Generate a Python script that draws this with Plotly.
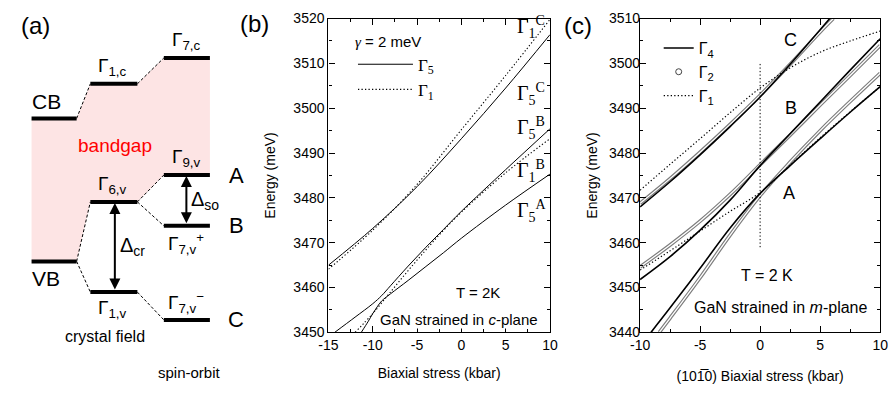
import plotly.graph_objects as go

# ======================= DATA =======================
# ---- Panel (a): schematic band-edge levels (arbitrary energy units) ----
level_names = ["CB", "Γ<sub>1,c</sub>", "Γ<sub>7,c</sub>",
               "VB", "Γ<sub>6,v</sub>", "Γ<sub>1,v</sub>",
               "Γ<sub>9,v</sub>", "Γ<sub>7,v</sub><sup>+</sup>", "Γ<sub>7,v</sub><sup>−</sup>"]
level_column = [0, 1, 2, 0, 1, 1, 2, 2, 2]
level_energy = [283, 319, 346, 134, 196, 102, 224, 171, 73]
level_links = [(0, 1), (1, 2), (3, 4), (3, 5), (4, 6), (4, 7), (5, 8)]
gap_top_levels = [0, 1, 2]
gap_bottom_levels = [6, 4, 3]
exciton_names = ["A", "B", "C"]
exciton_levels = [6, 7, 8]
splittings = [("Δ<sub>cr</sub>", 4, 5), ("Δ<sub>so</sub>", 6, 7)]
column_titles = ["crystal field", "spin-orbit"]

# ---- Panel (b): GaN strained in c-plane ----
b_tick_vals = [-15, -10, -5, 0, 5, 10]
b_tick_text = ["-15", "-10", "-5", "0", "5", "10"]
b_G5C_s = [-15, -10, -5, 0, 5, 10]
b_G5C_E = [3465.0, 3473.2, 3482.5, 3493.2, 3504.5, 3516.4]
b_G1C_s = [-15, -10, -5, 0, 5, 10]
b_G1C_E = [3464.1, 3472.8, 3483.0, 3495.2, 3507.3, 3519.8]
b_G5B_s = [-14.3, -12, -10, -9, -8, -6, -4, -2, 0, 5, 10]
b_G5B_E = [3450.0, 3453.4, 3456.4, 3458.2, 3460.4, 3464.8, 3469.0, 3473.0, 3477.0, 3486.3, 3495.4]
b_G1B_s = [-12, -10, -8, -6, -4, -2, 0, 5, 10]
b_G1B_E = [3450.0, 3454.2, 3459.0, 3463.8, 3468.4, 3472.8, 3476.8, 3485.6, 3493.2]
b_G5A_s = [-11.3, -10.5, -10, -9.5, -9, -8, -6, -4, -2, 0, 5, 10]
b_G5A_E = [3450.0, 3452.5, 3454.2, 3455.7, 3457.0, 3458.6, 3461.6, 3464.7, 3467.8, 3471.0, 3478.4, 3485.3]
b_labels = ["Γ<sub>1</sub><sup>C</sup>", "Γ<sub>5</sub><sup>C</sup>", "Γ<sub>5</sub><sup>B</sup>",
            "Γ<sub>1</sub><sup>B</sup>", "Γ<sub>5</sub><sup>A</sup>"]
b_label_s = [6.0, 6.0, 6.0, 6.0, 6.0]
b_label_E = [3518.1, 3503.1, 3495.6, 3486.0, 3477.0]

# ---- Panel (c): GaN strained in m-plane ----
c_tick_vals = [-10, -5, 0, 5, 10]
c_tick_text = ["-10", "-5", "0", "5", "10"]
c_C_G4_s = [-10, -7.5, -5, -2.5, 0, 2.5, 5, 5.8]
c_C_G4_E = [3468.0, 3473.6, 3479.6, 3485.9, 3492.5, 3499.8, 3507.5, 3510.0]
c_C_G2_s = [-10, -7.5, -5, -2.5, 0, 2.5, 5, 6.1]
c_C_G2_E = [3468.8, 3474.3, 3480.2, 3486.4, 3492.9, 3499.8, 3507.0, 3510.0]
c_C_G1_s = [-10, -7.5, -5, -2.5, 0, 2.5, 5, 7.5, 10]
c_C_G1_E = [3471.7, 3477.5, 3483.2, 3489.0, 3494.5, 3499.0, 3502.5, 3505.0, 3507.2]
c_B_G4_s = [-10, -7.5, -5, -2.5, 0, 2.5, 5, 7.5, 10]
c_B_G4_E = [3451.8, 3456.9, 3462.8, 3469.5, 3477.2, 3484.3, 3491.4, 3498.5, 3505.5]
c_B_G2_s = [-10, -7.5, -5, -2.5, 0, 2.5, 5, 7.5, 10]
c_B_G2_E = [3454.6, 3459.5, 3464.8, 3470.8, 3477.4, 3484.0, 3490.7, 3497.3, 3504.0]
c_B_G1_s = [-10, -7.5, -5, -2.5, 0, 2.5, 5, 7.5, 10]
c_B_G1_E = [3453.9, 3458.2, 3462.6, 3467.0, 3471.2, 3477.3, 3483.4, 3489.2, 3494.8]
c_A_G4_s = [-9.1, -7.5, -5, -2.5, 0, 2.5, 5, 7.5, 10]
c_A_G4_E = [3440.0, 3445.5, 3454.3, 3463.3, 3471.0, 3477.2, 3483.2, 3489.1, 3494.8]
c_A_G2_s = [-8.4, -7.5, -5, -2.5, 0, 2.5, 5, 7.5, 10]
c_A_G2_E = [3440.0, 3443.2, 3452.2, 3461.7, 3470.5, 3478.0, 3485.0, 3491.5, 3497.8]
c_guide_s = [0, 0]
c_guide_E = [3459, 3500]
c_labels = ["C", "B", "A"]
c_label_s = [2.57, 2.57, 2.41]
c_label_E = [3505.3, 3490.1, 3471.2]

# ======================= STYLE =======================
W, H = 896, 398


def PX(x):
    return x / W


def PY(y):
    return 1 - y / H


SANS = "Liberation Sans, Arial, sans-serif"
SERIF = "Liberation Serif, Times New Roman, serif"
col_left = [22, 82, 157]
col_right = [68, 130, 204]
col_label_x = [37, 105, 180]
label_above = [True, True, True, False, True, False, True, False, True]
PINK = "#fde4e4"
GRAY = "#7d7d7d"
DOT = "1.3px,2.2px"

fig = go.Figure()

# ---------------- Panel (a) ----------------
gx, gy = [], []
for i in gap_top_levels:
    c = level_column[i]
    gx += [col_left[c], col_right[c]]
    gy += [level_energy[i]] * 2
for i in gap_bottom_levels:
    c = level_column[i]
    gx += [col_right[c], col_left[c]]
    gy += [level_energy[i]] * 2
fig.add_trace(go.Scatter(x=gx, y=gy, fill="toself", fillcolor=PINK, mode="lines",
                         line=dict(width=0, color=PINK), hoverinfo="skip", showlegend=False,
                         xaxis="x", yaxis="y"))
for i, j in level_links:
    ci, cj = level_column[i], level_column[j]
    fig.add_trace(go.Scatter(x=[col_right[ci], col_left[cj]], y=[level_energy[i], level_energy[j]],
                             mode="lines", line=dict(color="black", width=1, dash="3px,2px"),
                             hoverinfo="skip", showlegend=False, xaxis="x", yaxis="y"))
for i, e in enumerate(level_energy):
    c = level_column[i]
    fig.add_trace(go.Scatter(x=[col_left[c], col_right[c]], y=[e, e], mode="lines",
                             line=dict(color="black", width=4), hoverinfo="skip",
                             showlegend=False, xaxis="x", yaxis="y"))

annotations = []
for i, name in enumerate(level_names):
    c = level_column[i]
    big = i in (0, 3)
    off = 18 if label_above[i] else -18
    annotations.append(dict(x=col_label_x[c], y=level_energy[i] + off, xref="x", yref="y",
                            text=name, showarrow=False, xanchor="center", yanchor="middle",
                            font=dict(family=SANS, size=21 if big else 19, color="black")))
for name, li in zip(exciton_names, exciton_levels):
    annotations.append(dict(x=231, y=level_energy[li], xref="x", yref="y", text=name,
                            showarrow=False, xanchor="center", yanchor="middle",
                            font=dict(family=SANS, size=22, color="black")))
split_x = {4: 107, 6: 180}
split_lab = {4: 110, 6: 183}
for name, hi, lo in splittings:
    xx = split_x[hi]
    annotations.append(dict(x=xx, y=level_energy[hi], ax=xx, ay=level_energy[lo], xref="x", yref="y",
                            axref="x", ayref="y", text="", showarrow=True, arrowhead=2,
                            arrowside="end+start", arrowwidth=2, arrowsize=1.1, arrowcolor="black",
                            standoff=1, startstandoff=1))
    annotations.append(dict(x=split_lab[hi], y=(level_energy[hi] + level_energy[lo]) / 2, xref="x", yref="y",
                            text=name, showarrow=False, xanchor="left", yanchor="middle",
                            font=dict(family=SANS, size=20, color="black")))
annotations.append(dict(x=107, y=255, xref="x", yref="y", text="bandgap", showarrow=False,
                        font=dict(family=SANS, size=19, color="#ff0000")))
annotations.append(dict(x=97, y=56, xref="x", yref="y", text=column_titles[0], showarrow=False,
                        font=dict(family=SANS, size=16, color="black")))
annotations.append(dict(x=183, y=18, xref="x", yref="y", text=column_titles[1], showarrow=False,
                        font=dict(family=SANS, size=15, color="black")))


# ---------------- Panel (b) ----------------
def line_tr(s, E, ax, dash="solid", width=1.0, color="black", name=None, legend=None):
    return go.Scatter(x=s, y=E, mode="lines", line=dict(color=color, width=width, dash=dash, shape="spline"),
                      name=name, showlegend=name is not None, legend=legend, hoverinfo="skip",
                      xaxis="x" + ax, yaxis="y" + ax)


fig.add_trace(line_tr(b_G5C_s, b_G5C_E, "2", name="Γ<sub>5</sub>", legend="legend"))
fig.add_trace(line_tr(b_G1C_s, b_G1C_E, "2", dash=DOT, width=1.1, name="Γ<sub>1</sub>", legend="legend"))
fig.add_trace(line_tr(b_G5B_s, b_G5B_E, "2"))
fig.add_trace(line_tr(b_G1B_s, b_G1B_E, "2", dash=DOT, width=1.1))
fig.add_trace(line_tr(b_G5A_s, b_G5A_E, "2"))

for t, s, e in zip(b_labels, b_label_s, b_label_E):
    annotations.append(dict(x=s, y=e, xref="x2", yref="y2", text=t, showarrow=False,
                            xanchor="left", yanchor="middle",
                            font=dict(family=SERIF, size=20, color="black")))
annotations.append(dict(x=1.9, y=3458.8, xref="x2", yref="y2", text="T = 2K", showarrow=False,
                        font=dict(family=SANS, size=15, color="black")))
annotations.append(dict(x=-0.3, y=3452.8, xref="x2", yref="y2", text="GaN strained in <i>c</i>-plane",
                        showarrow=False, bgcolor="white", borderpad=0,
                        font=dict(family=SANS, size=15, color="black")))

# ---------------- Panel (c) ----------------
for s, E in [(c_C_G2_s, c_C_G2_E), (c_B_G2_s, c_B_G2_E), (c_A_G2_s, c_A_G2_E)]:
    fig.add_trace(line_tr(s, E, "3", width=3.6, color=GRAY))
    fig.add_trace(line_tr(s, E, "3", width=1.3, color="white"))
fig.add_trace(line_tr(c_C_G4_s, c_C_G4_E, "3", width=1.6, name="Γ<sub>4</sub>", legend="legend2"))
fig.add_trace(go.Scatter(x=[None], y=[None], mode="markers", name="Γ<sub>2</sub>", legend="legend2",
                         marker=dict(symbol="circle-open", size=6, color="#444", line=dict(width=1)),
                         xaxis="x3", yaxis="y3", hoverinfo="skip"))
fig.add_trace(line_tr(c_C_G1_s, c_C_G1_E, "3", dash=DOT, width=1.2, name="Γ<sub>1</sub>", legend="legend2"))
fig.add_trace(line_tr(c_B_G4_s, c_B_G4_E, "3", width=1.6))
fig.add_trace(line_tr(c_A_G4_s, c_A_G4_E, "3", width=1.6))
fig.add_trace(line_tr(c_B_G1_s, c_B_G1_E, "3", dash=DOT, width=1.2))
fig.add_trace(line_tr(c_guide_s, c_guide_E, "3", dash=DOT, width=1.0))

for t, s, e in zip(c_labels, c_label_s, c_label_E):
    annotations.append(dict(x=s, y=e, xref="x3", yref="y3", text=t, showarrow=False,
                            font=dict(family=SANS, size=18, color="black")))
annotations.append(dict(x=0.61, y=3452.8, xref="x3", yref="y3", text="T = 2 K", showarrow=False,
                        font=dict(family=SANS, size=16, color="black")))
annotations.append(dict(x=1.76, y=3445.6, xref="x3", yref="y3", text="GaN strained in <i>m</i>-plane",
                        showarrow=False, bgcolor="white", borderpad=0,
                        font=dict(family=SANS, size=16, color="black")))

# panel letters
for t, px, py in [("(a)", 26, 18), ("(b)", 250, 16), ("(c)", 580, 18)]:
    annotations.append(dict(x=PX(px), y=PY(py), xref="paper", yref="paper", text=t, showarrow=False,
                            xanchor="center", yanchor="middle", font=dict(family=SANS, size=24, color="black")))


def frame(rng, tickvals=None, ticktext=None, dtick=None, minor=None, title="", standoff=16):
    d = dict(range=rng, showline=True, linecolor="black", linewidth=1.3, mirror="ticks",
             ticks="inside", ticklen=6, tickwidth=1.2, tickcolor="black", showgrid=False,
             zeroline=False, fixedrange=True,
             tickfont=dict(family=SANS, size=14, color="black"),
             minor=dict(ticks="inside", ticklen=3, tickwidth=1, tickcolor="black", dtick=minor, showgrid=False),
             title=dict(text=title, font=dict(family=SANS, size=14, color="black"), standoff=standoff))
    if tickvals is not None:
        d.update(tickmode="array", tickvals=tickvals, ticktext=ticktext)
    else:
        d.update(dtick=dtick)
    return d


ydom = [PY(338), PY(11)]
xb = frame([-15, 10], b_tick_vals, b_tick_text, minor=2.5, title="Biaxial stress (kbar)", standoff=15)
xb.update(domain=[PX(325), PX(551)], anchor="y2")
yb = frame([3450, 3520], dtick=10, minor=5, title="Energy (meV)", standoff=14)
yb.update(domain=ydom, anchor="x2", tick0=3450)
xc = frame([-10, 10], c_tick_vals, c_tick_text, minor=2.5, title="(101\u03050) Biaxial stress (kbar)",
           standoff=18)
xc.update(domain=[PX(643), PX(888)], anchor="y3")
yc = frame([3440, 3510], dtick=10, minor=5, title="Energy (meV)", standoff=8)
yc.update(domain=ydom, anchor="x3", tick0=3440, ticklabelstandoff=-4)

fig.update_layout(
    width=W, height=H, margin=dict(l=0, r=0, t=0, b=0), autosize=False,
    paper_bgcolor="white", plot_bgcolor="rgba(0,0,0,0)",
    # panel (a) axes are laid out in page pixels (y measured upward)
    xaxis=dict(domain=[0, PX(250)], range=[0, 250], visible=False, fixedrange=True),
    yaxis=dict(domain=[0, 1], range=[0, H], visible=False, fixedrange=True),
    xaxis2=xb, yaxis2=yb, xaxis3=xc, yaxis3=yc,
    annotations=annotations,
    legend=dict(x=PX(350), y=PY(20), xanchor="left", yanchor="top", bgcolor="rgba(0,0,0,0)",
                font=dict(family=SERIF, size=17, color="black"), itemwidth=55,
                title=dict(text="<span style='font-family:Liberation Serif'><i>γ</i></span> = 2 meV",
                           font=dict(family=SANS, size=15, color="black"))),
    legend2=dict(x=PX(662), y=PY(24), xanchor="left", yanchor="top", bgcolor="rgba(0,0,0,0)",
                 font=dict(family=SANS, size=16, color="black")),
)

fig.write_html("out.html")
